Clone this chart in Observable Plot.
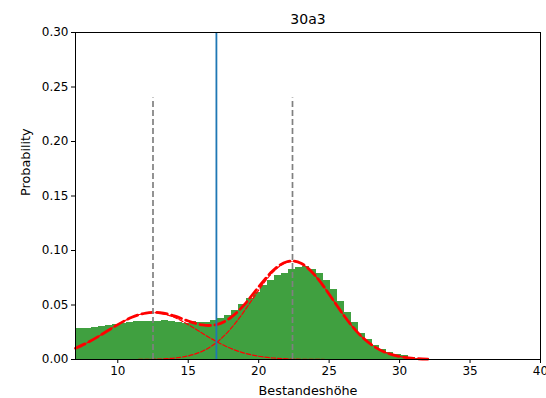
<!DOCTYPE html>
<html>
<head>
<meta charset="utf-8">
<script src="https://cdn.jsdelivr.net/npm/d3@7"></script>
<script src="https://cdn.jsdelivr.net/npm/@observablehq/plot@0.6"></script>
<style>
  html, body { margin: 0; padding: 0; background: white; }
</style>
</head>
<body>
<div id="chart"></div>
<script>
// Histogram bin edges (left edges + final right edge)
const binEdges = [6.6, 7.1, 7.6, 8.1, 8.6, 9.1, 9.6, 10.1, 10.6, 11.1, 11.6, 12.1, 12.6, 13.1, 13.6,
  14.1, 14.6, 15.1, 15.6, 16.1, 16.6, 17.1, 17.6, 18.1, 18.6, 19.1, 19.6, 20.1, 20.6, 21.1, 21.6,
  22.1, 22.6, 23.1, 23.6, 24.1, 24.6, 25.1, 25.6, 26.1, 26.6, 27.1, 27.6, 28.1, 28.6, 29.1, 29.6,
  30.1, 30.6, 31.1, 31.6, 32.1];
// Probability per bin
const binHeights = [0.0275, 0.028, 0.0285, 0.0295, 0.0305, 0.0315, 0.032, 0.033, 0.0338, 0.0345,
  0.035, 0.035, 0.0348, 0.0357, 0.0345, 0.0335, 0.0333, 0.0345, 0.0343, 0.0335, 0.0358, 0.038,
  0.040, 0.045, 0.0505, 0.0556, 0.0618, 0.068, 0.0725, 0.077, 0.079, 0.0826, 0.084, 0.0853, 0.083,
  0.079, 0.0725, 0.0638, 0.0532, 0.0428, 0.0335, 0.024, 0.018, 0.013, 0.0095, 0.0068, 0.0048,
  0.0033, 0.002, 0.0012, 0.0006];

// Fitted curves sampled at these heights
const curveX = [7, 8, 9, 10, 11, 12, 13, 14, 15, 16, 17, 18, 19, 20, 21, 22, 23, 24, 25, 26, 27, 28, 29, 30, 31, 32];
const comp1 = [0.0103, 0.0165, 0.0241, 0.0320, 0.0387, 0.0425, 0.0425, 0.0387, 0.0320, 0.0241, 0.0165,
  0.0103, 0.0058, 0.0030, 0.0014, 0.0006, 0.0002, 0.0001, 0, 0, 0, 0, 0, 0, 0, 0];
const comp2 = [0, 0, 0, 0, 0, 0.0001, 0.0004, 0.0013, 0.0033, 0.0076, 0.0155, 0.0280, 0.0448, 0.0636,
  0.0800, 0.0891, 0.0881, 0.0771, 0.0599, 0.0412, 0.0251, 0.0136, 0.0065, 0.0028, 0.0010, 0.0003];
const mixture = [0.0103, 0.0165, 0.0241, 0.0320, 0.0387, 0.0426, 0.0429, 0.0400, 0.0353, 0.0317, 0.0320,
  0.0383, 0.0506, 0.0666, 0.0814, 0.0897, 0.0883, 0.0772, 0.0599, 0.0412, 0.0251, 0.0136, 0.0065,
  0.0028, 0.0010, 0.0003];

const peakMeans = [12.5, 22.4];
const peakLineTop = 0.24;
const threshold = [17];

const xTicks = [10, 15, 20, 25, 30, 35, 40];
const yTicks = [0, 0.05, 0.10, 0.15, 0.20, 0.25, 0.30];
const titleText = "30a3";
const xLabel = "Bestandeshöhe";
const yLabel = "Probability";

const bars = binHeights.map((h, i) => ({x1: binEdges[i], x2: binEdges[i + 1], y: h}));
const c1 = curveX.map((x, i) => ({x, y: comp1[i]}));
const c2 = curveX.map((x, i) => ({x, y: comp2[i]}));
const cm = curveX.map((x, i) => ({x, y: mixture[i]}));

const chart = Plot.plot({
  width: 546,
  height: 398,
  marginLeft: 75,
  marginRight: 6,
  marginTop: 32,
  marginBottom: 39,
  style: {fontFamily: "DejaVu Sans", fontSize: "12px", color: "black", background: "white"},
  x: {domain: [7, 40]},
  y: {domain: [0, 0.30]},
  marks: [
    Plot.rectY(bars, {x1: "x1", x2: "x2", y: "y", fill: "#40a040", clip: true, inset: 0, shapeRendering: "crispEdges"}),
    Plot.line(c1, {x: "x", y: "y", stroke: "red", strokeWidth: 1.2, strokeDasharray: "4.4,1.9", curve: "natural"}),
    Plot.line(c2, {x: "x", y: "y", stroke: "red", strokeWidth: 1.2, strokeDasharray: "4.4,1.9", curve: "natural"}),
    Plot.line(cm, {x: "x", y: "y", stroke: "red", strokeWidth: 2.8, strokeDasharray: "10.5,4.5", curve: "natural"}),
    Plot.ruleX(peakMeans, {y1: 0, y2: peakLineTop, stroke: "gray", strokeWidth: 1.7, strokeDasharray: "6,3"}),
    Plot.ruleX(threshold, {stroke: "#1f77b4", strokeWidth: 1.8}),
    Plot.frame({stroke: "black", strokeWidth: 1}),
    Plot.axisX({ticks: xTicks, tickSize: 4, tickPadding: 3, label: null}),
    Plot.axisY({ticks: yTicks, tickFormat: ".2f", tickSize: 4, tickPadding: 3, label: null}),
    Plot.text([titleText], {frameAnchor: "top", lineAnchor: "middle", dy: -13, fontSize: 14}),
    Plot.text([xLabel], {frameAnchor: "bottom", lineAnchor: "middle", dy: 31, fontSize: 12.8}),
    Plot.text([yLabel], {frameAnchor: "left", dx: -50, rotate: -90, fontSize: 12.8})
  ]
});
document.getElementById("chart").appendChild(chart);
</script>
</body>
</html>
